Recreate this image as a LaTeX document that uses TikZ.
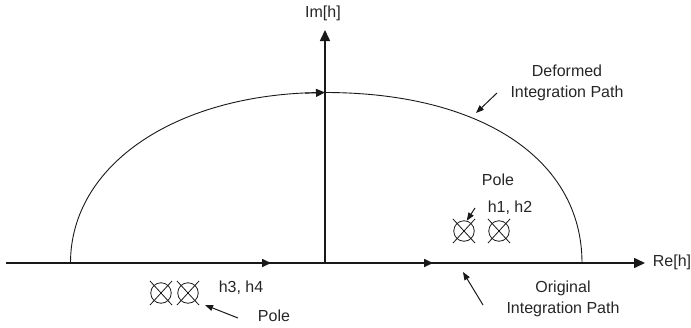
\documentclass[tikz,border=0pt]{standalone}
\usepackage{fontspec}
\setmainfont{Liberation Sans}
\usetikzlibrary{arrows.meta}
\begin{document}
\begin{tikzpicture}[x=1pt,y=-1pt,
  axis/.style={line width=1.6pt, draw=black!90},
  bigtip/.style={-{Triangle[length=11pt,width=10pt]}},
  midtip/.style={-{Triangle[length=9pt,width=8pt]}},
  labarrow/.style={line width=1pt, draw=black!90, -{Triangle[length=8pt,width=6pt]}},
  lab/.style={font=\fontsize{16}{21}\selectfont, text=black!85, inner sep=0pt, align=center},
  pole/.style={circle, draw=black!90, line width=0.8pt, minimum size=20.5pt, inner sep=0pt},
  contour/.style={line width=0.9pt, draw=black!90}
]
\useasboundingbox (0,0) rectangle (691,327);

% coordinates
\coordinate (O) at (325,263);
\coordinate (reL) at (6,263);
\coordinate (reR) at (645,263);
\coordinate (imT) at (325,30);
\coordinate (eL) at (70.5,263);
\coordinate (eT) at (325,92.5);
\coordinate (eR) at (582,263);

% axes
\draw[axis,bigtip] (reL) -- (reR);
\draw[axis,bigtip] (O) -- (imT);

% deformed contour
\draw[contour] (eL) .. controls (70.5,164) and (177.5,92.5) .. (eT)
               .. controls (481,92.5) and (582,159) .. (eR);

% direction arrows
\coordinate (m1a) at (255,263); \coordinate (m1) at (271,263);
\coordinate (m2a) at (417,263); \coordinate (m2) at (433,263);
\coordinate (m3a) at (305,93.2);  \coordinate (m3) at (325,92.5);
\draw[axis,midtip] (m1a) -- (m1);
\draw[axis,midtip] (m2a) -- (m2);
\draw[contour,midtip] (m3a) -- (m3);

% poles
\node[pole] (p1) at (464,231) {};
\node[pole] (p2) at (499,231) {};
\node[pole] (p3) at (161,293) {};
\node[pole] (p4) at (188,293) {};
\foreach \p in {p1,p2,p3,p4}{
  \draw[line width=0.8pt, draw=black!90] (\p.center) +(-11,-12) -- +(11,12);
  \draw[line width=0.8pt, draw=black!90] (\p.center) +(11,-12) -- +(-11,12);
}

% labels
\node[lab] (im) at (323,13) {Im[h]};
\node[lab] (re) at (672,262) {Re[h]};
\node[lab] (def) at (567,83) {Deformed\\Integration Path};
\node[lab] (orig) at (563,299) {Original\\Integration Path};
\node[lab] (pole1) at (498,180) {Pole};
\node[lab] (h12) at (510,208) {h1, h2};
\node[lab] (h34) at (241,288) {h3, h4};
\node[lab] (pole2) at (274,316) {Pole};

% label arrows
\coordinate (dA) at (497,93);  \coordinate (dB) at (476,113);
\coordinate (oA) at (483,305); \coordinate (oB) at (463,272);
\coordinate (qA) at (475,208);
\coordinate (rA) at (238,318); \coordinate (rB) at (205,305);
\draw[labarrow] (dA) -- (dB);
\draw[labarrow] (oA) -- (oB);
\draw[labarrow] (qA) -- (p1.75);
\draw[labarrow] (rA) -- (rB);
\end{tikzpicture}
\end{document}
